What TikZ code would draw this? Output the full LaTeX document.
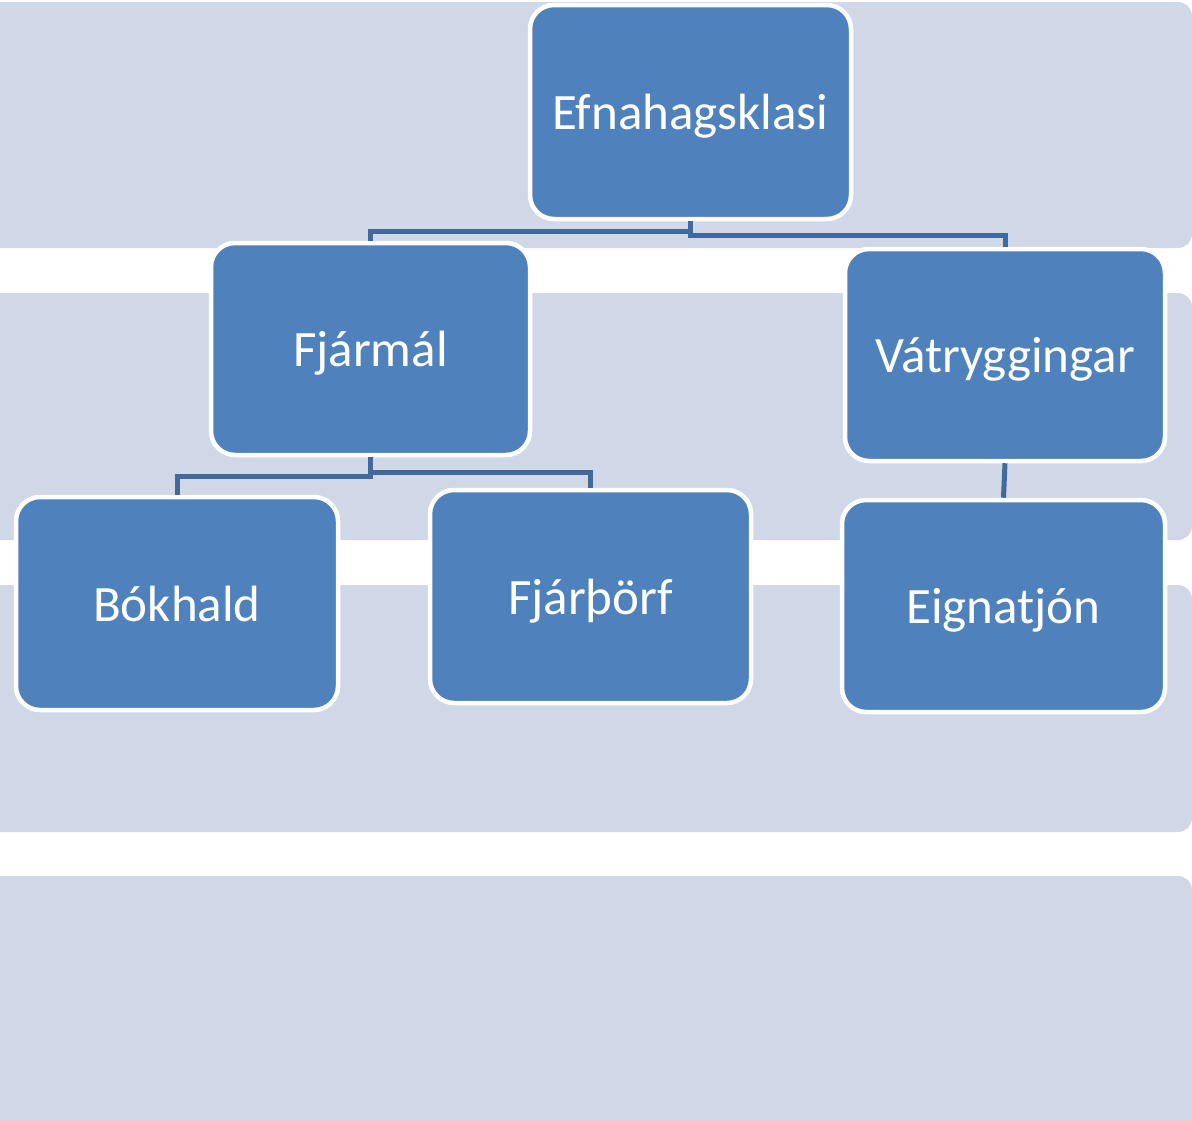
\documentclass[tikz,border=0pt]{standalone}
\usepackage{fontspec}
\setmainfont{Carlito}
\definecolor{band}{RGB}{208,216,232}
\definecolor{boxfill}{RGB}{79,129,189}
\definecolor{conncol}{RGB}{65,105,158}
\begin{document}
\begin{tikzpicture}[x=1pt,y=-1pt,
  bandbox/.style={fill=band,draw=none,rounded corners=14pt},
  orgbox/.style={fill=boxfill,draw=white,line width=4.5pt,rounded corners=24pt,
    text=white,font=\fontsize{51}{58}\selectfont,inner sep=0pt,
    text height=35pt,text depth=0pt},
  conn/.style={draw=conncol,line width=5pt}]
\useasboundingbox (0,0) rectangle (1192,1120);
\fill[white] (0,0) rectangle (1192,1120);
% bands
\path[bandbox] (-30,2) rectangle (1192,248);
\path[bandbox] (-30,293) rectangle (1192,540);
\path[bandbox] (-30,585) rectangle (1192,832);
\path[bandbox] (-30,876) rectangle (1192,1150);
% nodes
\node[orgbox,minimum width=321pt,minimum height=214pt] (efn) at (690.5,112) {Efnahagsklasi};
\node[orgbox,minimum width=319pt,minimum height=212pt] (fja) at (370.5,349) {Fjármál};
\node[orgbox,minimum width=320pt,minimum height=212pt] (vat) at (1005,355) {Vátryggingar};
\node[orgbox,minimum width=322pt,minimum height=213pt] (bok) at (177,603.5) {Bókhald};
\node[orgbox,minimum width=321pt,minimum height=213pt] (fjp) at (590.5,596.5) {Fjárþörf};
\node[orgbox,minimum width=323pt,minimum height=212pt] (eig) at (1003.5,606) {Eignatjón};
% connectors
\draw[conn] (efn.south) -- ++(0,10) -| (fja.north);
\draw[conn] (efn.south) -- ++(0,14) -| (vat.north);
\draw[conn] (fja.south) -- ++(0,19) -| (bok.north);
\draw[conn] (fja.south) -- ++(0,15) -| (fjp.north);
\draw[conn] (vat.south) -- (eig.north);
\end{tikzpicture}
\end{document}
